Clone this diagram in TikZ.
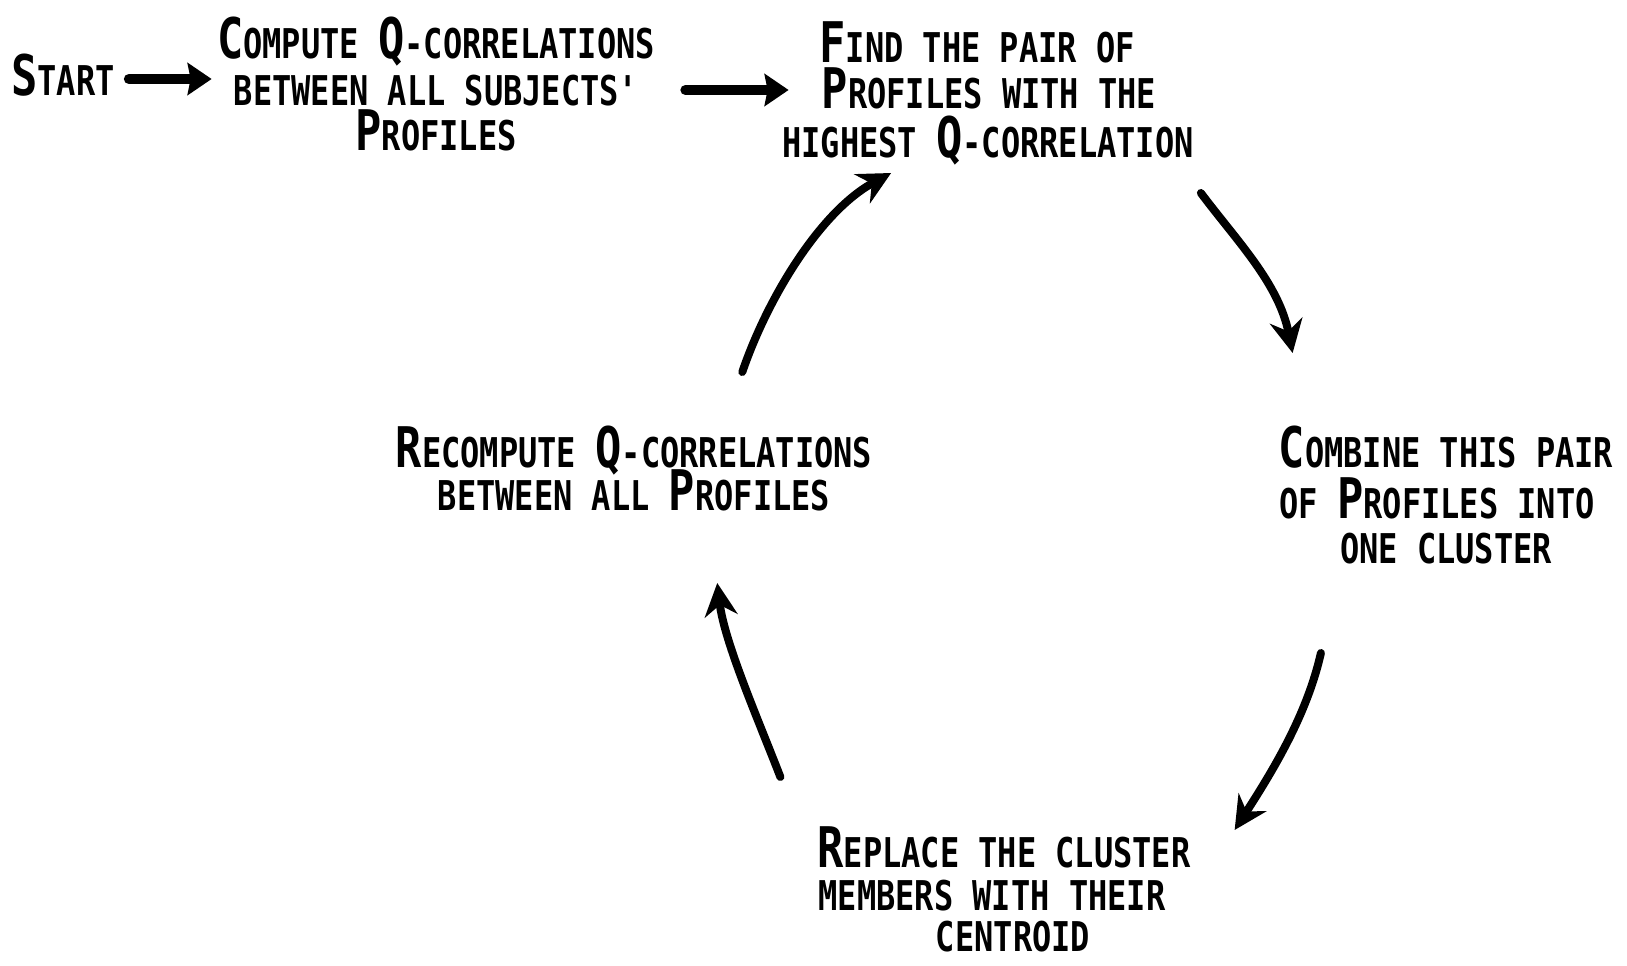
\documentclass[tikz,border=0pt]{standalone}
\usepackage{fontspec}
\usetikzlibrary{arrows.meta,calc}
% condensed stencil-like lettering
\newfontfamily\lettering{DejaVu Sans Mono}[FakeStretch=0.78]
% taller initial capital for small-caps style words
\newcommand\Cap[1]{{\fontsize{56}{56}\selectfont #1}}

\begin{document}
\begin{tikzpicture}[x=1pt,y=-1pt,
  txt/.style={inner sep=0pt, anchor=base,
    font=\lettering\bfseries\fontsize{41}{41}\selectfont},
  flat/.style={line width=10pt, line cap=round,
    -{Stealth[length=24pt,width=32pt,inset=3pt]}},
  curve/.style={line width=8pt, line cap=round,
    -{Stealth[length=33pt,width=33pt,inset=11pt]}}]
\useasboundingbox (0,0) rectangle (1627,966);

\node[txt] (start) at (63,95) {\Cap{S}TART};

\node[txt] (compute-1) at (436,59)  {\Cap{C}OMPUTE \Cap{Q}-CORRELATIONS};
\node[txt] (compute-2) at (436,105) {BETWEEN ALL SUBJECTS'};
\node[txt] (compute-3) at (436,150) {\Cap{P}ROFILES};

\node[txt] (find-1) at (977,63)  {\Cap{F}IND THE PAIR OF};
\node[txt] (find-2) at (989,108) {\Cap{P}ROFILES WITH THE};
\node[txt] (find-3) at (988,157) {HIGHEST \Cap{Q}-CORRELATION};

\node[txt] (combine-1) at (1446,467) {\Cap{C}OMBINE THIS PAIR};
\node[txt] (combine-2) at (1437,518) {OF \Cap{P}ROFILES INTO};
\node[txt] (combine-3) at (1446,563) {ONE CLUSTER};

\node[txt] (replace-1) at (1004,867) {\Cap{R}EPLACE THE CLUSTER};
\node[txt] (replace-2) at (992,910)  {MEMBERS WITH THEIR};
\node[txt] (replace-3) at (1013,951) {CENTROID};

\node[txt] (recompute-1) at (634,467) {\Cap{R}ECOMPUTE \Cap{Q}-CORRELATIONS};
\node[txt] (recompute-2) at (634,510) {BETWEEN ALL \Cap{P}ROFILES};

% straight arrows along the top row
\draw[flat] ($(start.base east)+(14,-16)$) -- ($(compute-2.base west)+(-22,-26)$);
\draw[flat] ($(compute-2.base east)+(47,-15)$) -- ($(find-2.base west)+(-33,-18)$);

% the loop
\draw[curve] ($(find-3.base east)+(7,36)$)
  .. controls +(36,48) and +(-14,-70) .. ($(combine-1.base west)+(14,-114)$);
\draw[curve] ($(combine-3.base west)+(-19,90)$)
  .. controls +(-14,62) and +(38,-59) .. ($(replace-1.base east)+(44,-37)$);
\draw[curve] ($(replace-1.base west)+(-37,-90)$)
  .. controls +(-22,-57) and +(7,59) .. ($(recompute-2.base east)+(-113,73)$);
\draw[curve] ($(recompute-1.base east)+(-130,-95)$)
  .. controls +(26,-76) and +(-70,38) .. ($(find-3.base west)+(109,16)$);
\end{tikzpicture}
\end{document}
